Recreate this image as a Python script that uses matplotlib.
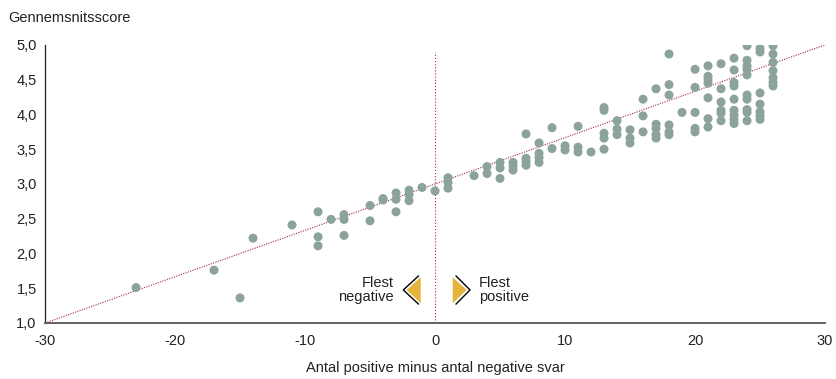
import numpy as np
import matplotlib.pyplot as plt
from matplotlib.patches import Polygon

plt.rcParams['font.family'] = ['Liberation Sans', 'DejaVu Sans']
plt.rcParams['axes.unicode_minus'] = False

# antal positive minus antal negative svar, and the scores seen at each value
diff_values = [-23, -17, -15, -14, -11, -9, -8, -7, -5, -4, -3, -2, -1, 0, 1,
               3, 4, 5, 6, 7, 8, 9, 10, 11, 12, 13, 14, 15, 16, 17, 18, 19,
               20, 21, 22, 23, 24, 25, 26]
score_groups = [
    [1.51], [1.76], [1.36], [2.22], [2.41],
    [2.60, 2.24, 2.11], [2.49], [2.56, 2.49, 2.26], [2.69, 2.47],
    [2.79, 2.77], [2.87, 2.78, 2.60], [2.91, 2.85, 2.76], [2.95], [2.90],
    [3.09, 3.02, 2.94],
    [3.12], [3.25, 3.15], [3.31, 3.23, 3.08], [3.31, 3.26, 3.20],
    [3.72, 3.37, 3.32, 3.27], [3.59, 3.44, 3.38, 3.31], [3.81, 3.51],
    [3.55, 3.49], [3.83, 3.53, 3.46], [3.46],
    [4.10, 4.06, 3.73, 3.66, 3.50], [3.91, 3.79, 3.71], [3.78, 3.66, 3.59],
    [4.22, 3.98, 3.75], [4.37, 3.86, 3.80, 3.71, 3.66],
    [4.87, 4.43, 4.28, 3.85, 3.75, 3.71], [4.03],
    [4.65, 4.39, 4.03, 3.80, 3.75],
    [4.70, 4.55, 4.50, 4.45, 4.24, 3.94, 3.82],
    [4.73, 4.37, 4.18, 4.06, 4.02, 3.91],
    [4.81, 4.64, 4.46, 4.41, 4.22, 4.06, 3.99, 3.93, 3.87],
    [4.99, 4.78, 4.70, 4.65, 4.57, 4.28, 4.22, 4.07, 4.03, 3.91],
    [4.95, 4.90, 4.31, 4.15, 4.04, 3.98, 3.93],
    [4.99, 4.87, 4.75, 4.63, 4.53, 4.46, 4.41],
]

# trend line (score = intercept + slope * diff)
trend_intercept = 3.0
trend_slope = 0.0667

x_ticks = [-30, -20, -10, 0, 10, 20, 30]
y_ticks = [1.0, 1.5, 2.0, 2.5, 3.0, 3.5, 4.0, 4.5, 5.0]

dot_col = '#8ca399'
line_col = '#a3293b'
gold = '#e6b43c'
txt = '#222222'
fs = 10.5

x = np.repeat(diff_values, [len(g) for g in score_groups])
y = np.concatenate(score_groups)

fig = plt.figure(figsize=(8.37, 3.79), dpi=100)
ax = fig.add_axes([0.0538, 0.1478, 0.9319, 0.7335])

ax.scatter(x, y, s=42, color=dot_col, edgecolors='none', zorder=3)

xx = np.array([-30, 30])
ax.plot(xx, trend_intercept + trend_slope * xx, color=line_col, lw=0.8,
        ls=(0, (1, 1.2)), zorder=2)
ax.plot([0, 0], [1.0, 4.9], color=line_col, lw=0.8, ls=(0, (1, 1.8)), zorder=2)

ax.set_xlim(-30, 30)
ax.set_ylim(1.0, 5.0)
ax.set_xticks(x_ticks)
ax.set_yticks(y_ticks)
ax.set_yticklabels([f"{v:.1f}".replace('.', ',') for v in y_ticks])
ax.tick_params(length=0, labelsize=fs, colors=txt, pad=6)
ax.tick_params(axis='x', pad=8)
for s in ['top', 'right']:
    ax.spines[s].set_visible(False)
ax.spines['left'].set_color(txt)
ax.spines['left'].set_linewidth(0.9)
ax.spines['bottom'].set_color('#555555')
ax.spines['bottom'].set_linewidth(1.3)

# arrows marking the two sides
ax.add_patch(Polygon([(-2.18, 1.475), (-1.1, 1.658), (-1.1, 1.283)],
                     closed=True, color=gold, lw=0, zorder=4))
ax.plot([-1.28, -2.44, -1.28], [1.676, 1.475, 1.273], color='black', lw=1.0, zorder=5)
ax.add_patch(Polygon([(2.44, 1.475), (1.36, 1.658), (1.36, 1.283)],
                     closed=True, color=gold, lw=0, zorder=4))
ax.plot([1.62, 2.69, 1.62], [1.676, 1.475, 1.273], color='black', lw=1.0, zorder=5)

ax.text(-3.2, 1.475, "Flest\nnegative", ha='right', va='center', fontsize=fs,
        color=txt, linespacing=1.0)
ax.text(3.4, 1.475, "Flest\npositive", ha='left', va='center', fontsize=fs,
        color=txt, linespacing=1.0)

fig.text(0.01, 0.952, "Gennemsnitsscore", ha='left', va='center', fontsize=fs,
         color=txt)
fig.text(0.52, 0.028, "Antal positive minus antal negative svar", ha='center',
         va='center', fontsize=fs, color=txt)

fig.savefig('out.png', dpi=100)
